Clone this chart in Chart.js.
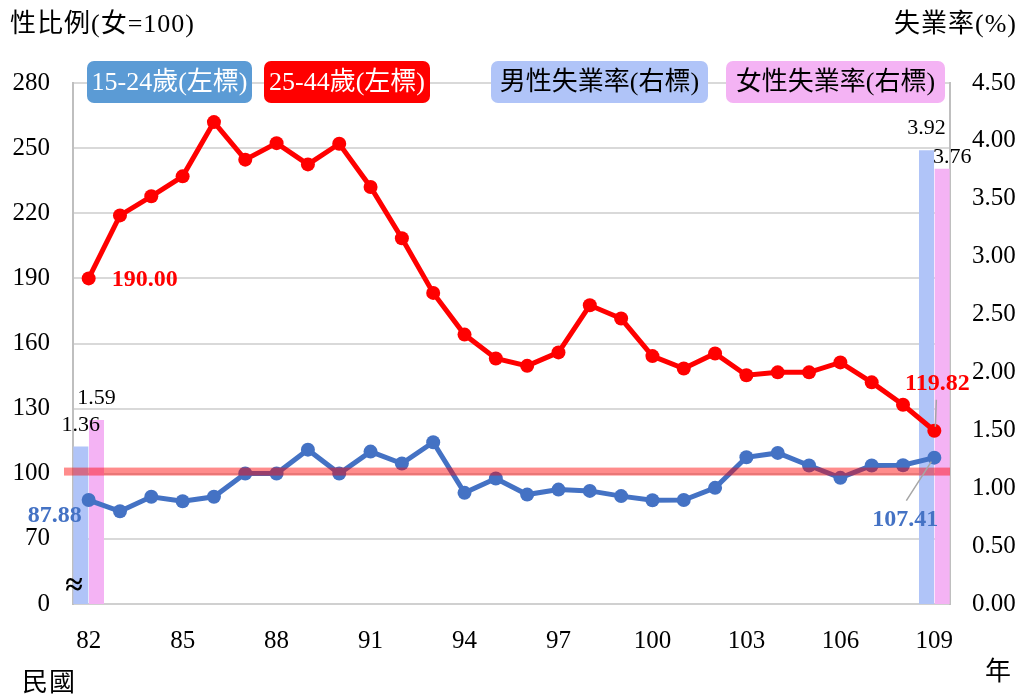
<!DOCTYPE html>
<html>
<head>
<meta charset="utf-8">
<script src="https://cdn.jsdelivr.net/npm/chart.js@4"></script>
<style>
  body { margin: 0; background: #fff; }
  #wrap { width: 1025px; height: 695px; }
</style>
</head>
<body>
<div id="wrap"><canvas id="c" width="1025" height="695"></canvas></div>
<script>
// 民國年
const years = ['82','83','84','85','86','87','88','89','90','91','92','93','94','95',
  '96','97','98','99','100','101','102','103','104','105','106','107','108','109'];

// 性比例(女=100), 左標
const ratio1524 = [87.88, 82.7, 89.4, 87.3, 89.4, 100.1, 100.1, 111.1, 100.1, 110.2, 104.7, 114.5, 91.2, 97.8,
  90.4, 92.7, 92.1, 89.7, 87.8, 87.9, 93.5, 107.6, 109.6, 103.8, 98.1, 103.8, 103.9, 107.41];
const ratio2544 = [190.00, 219.0, 227.8, 237.0, 262.0, 244.7, 252.3, 242.5, 252.0, 232.1, 208.5, 183.3, 164.1, 153.1,
  149.7, 155.9, 177.6, 171.5, 154.2, 148.5, 155.4, 145.4, 146.7, 146.7, 151.3, 142.1, 131.8, 119.82];

// 失業率(%), 右標 — 只有首尾兩年
const maleRate = [1.36, null, null, null, null, null, null, null, null, null, null, null, null, null,
  null, null, null, null, null, null, null, null, null, null, null, null, null, 3.92];
const femaleRate = [1.59, null, null, null, null, null, null, null, null, null, null, null, null, null,
  null, null, null, null, null, null, null, null, null, null, null, null, null, 3.76];

const parityLine = 101;

const serif = "'Liberation Serif', 'Noto Sans CJK TC', serif";
const BLUE = '#4472c4';
const RED = '#ff0000';

const decor = {
  id: 'decor',
  afterDatasetsDraw(chart) {
    const ctx = chart.ctx;
    const y = chart.scales.y.getPixelForValue(parityLine);
    ctx.save();
    ctx.fillStyle = 'rgba(255,0,0,0.45)';
    ctx.fillRect(64, y - 4, chart.chartArea.right - 64, 8);
    ctx.restore();
  },
  afterDraw(chart) {
    const ctx = chart.ctx;
    ctx.save();

    // bar labels
    ctx.font = '22px ' + serif;
    ctx.fillStyle = '#000';
    ctx.textAlign = 'center';
    ctx.textBaseline = 'alphabetic';
    [2, 3].forEach(di => {
      const meta = chart.getDatasetMeta(di);
      const vals = chart.data.datasets[di].data;
      meta.data.forEach((bar, i) => {
        if (vals[i] == null) return;
        let dx = 0, dy = -16;
        if (di === 3 && i === vals.length - 1) { dx = 10; dy = -6; }
        ctx.fillText(vals[i].toFixed(2), bar.x + dx, bar.y + dy);
      });
    });

    // line end labels
    const p15 = chart.getDatasetMeta(0).data;
    const p25 = chart.getDatasetMeta(1).data;
    const last = years.length - 1;
    ctx.font = 'bold 24px ' + serif;
    ctx.textBaseline = 'middle';

    ctx.fillStyle = BLUE;
    ctx.textAlign = 'right';
    ctx.fillText(ratio1524[0].toFixed(2), p15[0].x - 7, p15[0].y + 16);
    ctx.textAlign = 'center';
    ctx.fillText(ratio1524[last].toFixed(2), p15[last].x - 29, p15[last].y + 62);

    ctx.fillStyle = RED;
    ctx.textAlign = 'left';
    ctx.fillText(ratio2544[0].toFixed(2), p25[0].x + 23, p25[0].y + 1);
    ctx.textAlign = 'center';
    ctx.fillText(ratio2544[last].toFixed(2), p25[last].x + 3, p25[last].y - 47);

    // leader lines
    ctx.strokeStyle = '#a6a6a6';
    ctx.lineWidth = 1.5;
    ctx.beginPath();
    ctx.moveTo(p25[last].x + 2, p25[last].y - 31);
    ctx.lineTo(p25[last].x + 1, p25[last].y - 4);
    ctx.moveTo(p15[last].x - 28, p15[last].y + 43);
    ctx.lineTo(p15[last].x - 3, p15[last].y + 4);
    ctx.stroke();

    // axis break mark
    ctx.fillStyle = '#000';
    ctx.font = 'bold 32px ' + serif;
    ctx.textAlign = 'center';
    ctx.fillText('≈', 74, 587);

    // axis titles
    ctx.font = '26px ' + serif;
    ctx.textBaseline = 'middle';
    ctx.textAlign = 'left';
    ctx.letterSpacing = '1px';
    ctx.fillText('性比例(女=100)', 10, 25);
    ctx.fillText('民國', 22, 684);
    ctx.textAlign = 'right';
    ctx.fillText('失業率(%)', 1017, 25);
    ctx.fillText('年', 1012, 673);
    ctx.letterSpacing = '0px';

    // legend boxes
    const boxes = [
      { text: chart.data.datasets[0].label, x: 87, w: 165, bg: '#5b9bd5', fg: '#fff' },
      { text: chart.data.datasets[1].label, x: 264, w: 166, bg: RED, fg: '#fff' },
      { text: chart.data.datasets[2].label, x: 491, w: 217, bg: '#b0c4f8', fg: '#000' },
      { text: chart.data.datasets[3].label, x: 726, w: 219, bg: '#f4b3f4', fg: '#000' }
    ];
    ctx.font = '26px ' + serif;
    ctx.textAlign = 'center';
    boxes.forEach(b => {
      ctx.fillStyle = b.bg;
      ctx.beginPath();
      ctx.roundRect(b.x, 61, b.w, 42, 7);
      ctx.fill();
      ctx.fillStyle = b.fg;
      ctx.fillText(b.text, b.x + b.w / 2, 83);
    });
    ctx.restore();
  }
};

new Chart(document.getElementById('c'), {
  type: 'line',
  data: {
    labels: years,
    datasets: [
      {
        label: '15-24歲(左標)', data: ratio1524, yAxisID: 'y', order: 0,
        borderColor: BLUE, backgroundColor: BLUE, borderWidth: 5,
        pointRadius: 7, pointHoverRadius: 7, pointBorderWidth: 0, pointBackgroundColor: BLUE, tension: 0
      },
      {
        label: '25-44歲(左標)', data: ratio2544, yAxisID: 'y', order: 0,
        borderColor: RED, backgroundColor: RED, borderWidth: 5,
        pointRadius: 7, pointHoverRadius: 7, pointBorderWidth: 0, pointBackgroundColor: RED, tension: 0
      },
      {
        type: 'bar', label: '男性失業率(右標)', data: maleRate, yAxisID: 'y1', order: 1,
        backgroundColor: '#b0c4f8', categoryPercentage: 1, barPercentage: 0.96
      },
      {
        type: 'bar', label: '女性失業率(右標)', data: femaleRate, yAxisID: 'y1', order: 1,
        backgroundColor: '#f4b3f4', categoryPercentage: 1, barPercentage: 0.96
      }
    ]
  },
  options: {
    responsive: false,
    animation: false,
    layout: { padding: { top: 83, left: 0, right: 0, bottom: 0 } },
    plugins: { legend: { display: false }, tooltip: { enabled: false } },
    scales: {
      x: {
        offset: true,
        grid: { display: false },
        border: { display: true, color: '#d0d0d0', width: 2 },
        ticks: {
          autoSkip: false, maxRotation: 0, padding: 14, color: '#000',
          font: { family: serif, size: 25 },
          callback: (v, i) => (i % 3 === 0 ? years[i] : '')
        },
        afterFit: s => { s.height = 91; }
      },
      y: {
        position: 'left', min: 40, max: 280,
        grid: { color: '#d9d9d9', lineWidth: 2, drawTicks: false },
        border: { display: true, color: '#bfbfbf', width: 2 },
        ticks: {
          stepSize: 30, padding: 23, color: '#000',
          font: { family: serif, size: 25 },
          callback: v => (v === 40 ? '0' : v)
        },
        afterFit: s => { s.width = 73; }
      },
      y1: {
        position: 'right', min: 0, max: 4.5,
        grid: { display: false, drawTicks: false },
        border: { display: true, color: '#bfbfbf', width: 2 },
        ticks: {
          stepSize: 0.5, padding: 22, color: '#000',
          font: { family: serif, size: 25 },
          callback: v => v.toFixed(2)
        },
        afterFit: s => { s.width = 75; }
      }
    }
  },
  plugins: [decor]
});
</script>
</body>
</html>
